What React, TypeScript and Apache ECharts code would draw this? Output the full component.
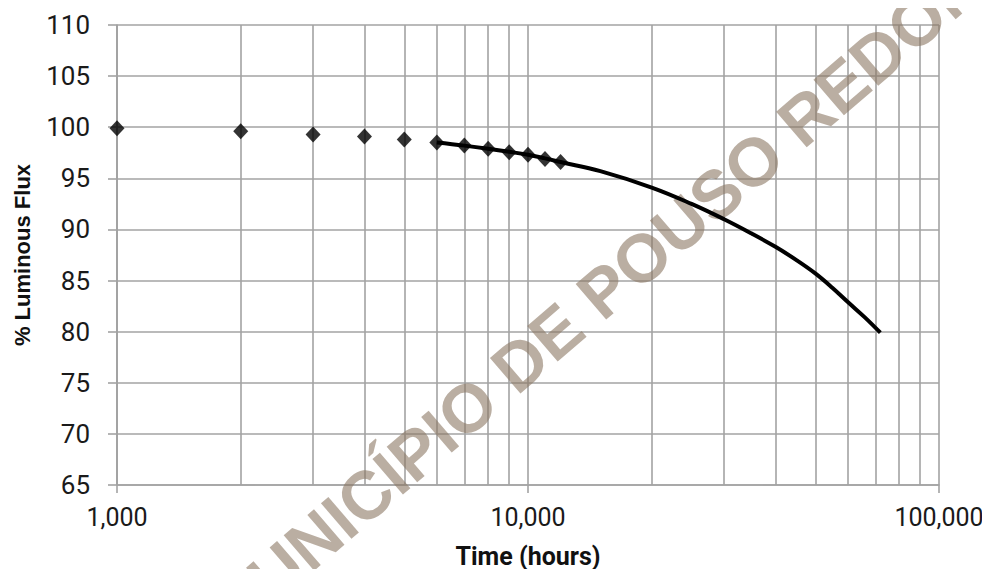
import React, { useEffect, useRef } from "react";
import * as echarts from "echarts";

const markerHours = [1000, 2000, 3000, 4000, 5000, 6000, 7000, 8000, 9000, 10000, 11000, 12000];
const markerFlux = [99.9, 99.6, 99.3, 99.1, 98.8, 98.5, 98.2, 97.9, 97.55, 97.3, 96.9, 96.6];

const curveHours = [6000, 7000, 8000, 9000, 10000, 11000, 12000, 15000, 20000, 25000, 30000, 35000, 40000, 45000, 50000, 55000, 60000, 66000, 72000];
const curveFlux = [98.5, 98.2, 97.9, 97.6, 97.3, 96.95, 96.6, 95.7, 94.1, 92.5, 91.0, 89.6, 88.3, 87.0, 85.7, 84.3, 82.9, 81.4, 79.9];

const minorGridHours = [2000, 3000, 4000, 5000, 6000, 7000, 8000, 9000, 20000, 30000, 40000, 50000, 60000, 70000, 80000, 90000];

const xAxisTitle = "Time (hours)";
const yAxisTitle = "% Luminous Flux";
const watermarkText = "MUNICÍPIO DE POUSO REDONDO";

const GRID = "#a3a3a3";

export default function App() {
  const ref = useRef<HTMLDivElement>(null);
  useEffect(() => {
    if (!ref.current) return;
    const chart = echarts.init(ref.current, null, { renderer: "svg" });
    chart.setOption({
      animation: false,
      backgroundColor: "#ffffff",
      grid: { left: 117, right: 51, top: 25, bottom: 92 },
      xAxis: {
        type: "log",
        logBase: 10,
        min: 1000,
        max: 100000,
        name: xAxisTitle,
        nameLocation: "middle",
        nameGap: 59,
        nameTextStyle: { fontFamily: "Roboto", fontWeight: "bold", fontSize: 25, color: "#111" },
        axisLine: { show: true, lineStyle: { color: GRID, width: 1.6 } },
        axisTick: { show: true, length: 8, lineStyle: { color: GRID, width: 1.6 } },
        axisLabel: {
          fontFamily: "Roboto",
          fontSize: 25,
          color: "#1a1a1a",
          margin: 20,
          formatter: (v: number) => Math.round(v).toLocaleString("en-US"),
        },
        splitLine: { show: true, lineStyle: { color: GRID, width: 1.6 } },
      },
      yAxis: {
        type: "value",
        min: 65,
        max: 110,
        interval: 5,
        name: yAxisTitle,
        nameLocation: "middle",
        nameGap: 84,
        nameTextStyle: { fontFamily: "Liberation Sans", fontWeight: "bold", fontSize: 22, color: "#111" },
        axisLine: { show: true, lineStyle: { color: GRID, width: 1.6 } },
        axisTick: { show: true, length: 9, lineStyle: { color: GRID, width: 1.6 } },
        axisLabel: { fontFamily: "Roboto", fontSize: 26, color: "#1a1a1a", margin: 27 },
        splitLine: { show: true, lineStyle: { color: GRID, width: 1.6 } },
      },
      graphic: [
        {
          type: "text",
          x: 633,
          y: 265,
          rotation: (40.7 * Math.PI) / 180,
          z: 1,
          silent: true,
          style: {
            text: watermarkText,
            fill: "rgba(140,120,100,0.6)",
            font: "bold 68px 'Liberation Sans', Arial, sans-serif",
            textAlign: "center",
            textVerticalAlign: "middle",
          },
        },
      ],
      series: [
        {
          type: "line",
          data: curveHours.map((h, i) => [h, curveFlux[i]]),
          showSymbol: false,
          smooth: 0.4,
          lineStyle: { color: "#000", width: 4 },
          z: 3,
          markLine: {
            silent: true,
            symbol: ["none", "none"],
            label: { show: false },
            lineStyle: { color: GRID, width: 1.6, type: "solid" },
            data: minorGridHours.map((h) => ({ xAxis: h })),
            z: 0,
          },
        },
        {
          type: "scatter",
          data: markerHours.map((h, i) => [h, markerFlux[i]]),
          symbol: "diamond",
          symbolSize: [15, 16],
          itemStyle: { color: "#000" },
          z: 4,
        },
      ],
    });
    return () => chart.dispose();
  }, []);
  return <div ref={ref} style={{ width: 990, height: 577, margin: -8 }} />;
}
